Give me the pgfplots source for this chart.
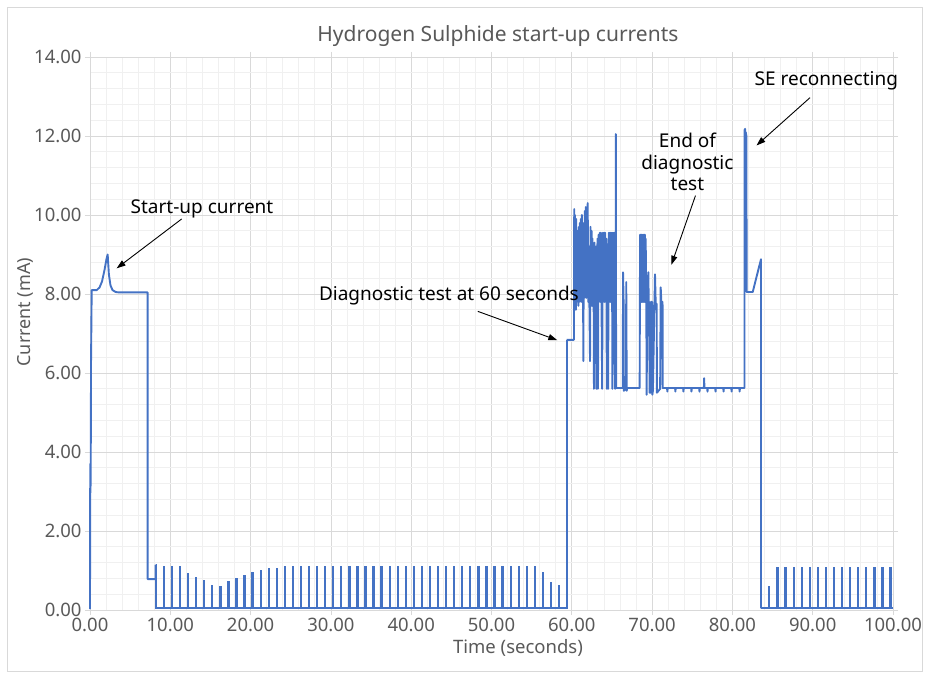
\documentclass[border=0pt]{standalone}
\usepackage{fontspec}
\setmainfont{Noto Sans}
\usepackage{pgfplots}
\pgfplotsset{compat=1.18}
\usetikzlibrary{arrows.meta}

\definecolor{trace}{HTML}{4472C4}
\definecolor{txtgray}{HTML}{595959}
\definecolor{majgrid}{HTML}{D9D9D9}
\definecolor{mingrid}{HTML}{F0F0F0}

\newcommand{\annfont}{\fontsize{19}{21.7}\selectfont}

\begin{document}
\begin{tikzpicture}
% page = 929 x 673 px, axis origin at pixel (90,610)
\path[use as bounding box] (-90pt,-63pt) rectangle (839pt,610pt);
\draw[majgrid, line width=0.8pt] (-83pt,-61pt) rectangle (832pt,603pt);
\begin{axis}[
    at={(0pt,0pt)}, anchor=south west,
    scale only axis, width=803pt, height=553pt,
    xmin=0, xmax=100, ymin=0, ymax=14,
    xtick distance=10, ytick distance=2,
    minor tick num=4,
    grid=both,
    major grid style={majgrid, line width=0.8pt},
    minor grid style={mingrid, line width=0.8pt},
    axis line style={majgrid, line width=0.8pt},
    tick align=outside, major tick length=5pt, minor tick length=0pt,
    tick style={majgrid, line width=0.8pt},
    tick label style={font=\fontsize{18.5}{20}\selectfont, text=txtgray},
    /pgf/number format/.cd, fixed, fixed zerofill, precision=2, assume math mode=true,
    /pgfplots/.cd,
    clip=false,
]

% start-up
\addplot[trace, line width=1.9pt, line join=round] coordinates {
(0.00,0.02) (0.03,3.70) (0.06,2.97) (0.09,3.55) (0.13,6.30) (0.17,7.20) (0.21,8.10)
(0.85,8.10) (1.20,8.17) (1.50,8.32) (1.80,8.60) (2.05,8.88) (2.20,9.00) (2.35,8.50)
(2.55,8.22) (2.80,8.10) (3.20,8.05) (3.60,8.04) (7.18,8.04) (7.18,0.78) (8.18,0.78) (8.18,1.14)
};

% idle pulses
\addplot[trace, line width=1.9pt, const plot mark left] coordinates {
(8.18,1.14) (8.23,0.04) (9.18,1.08) (9.23,0.04) (10.19,1.08) (10.24,0.04) (11.19,1.08) (11.24,0.04)
(12.20,0.91) (12.25,0.04) (13.20,0.81) (13.25,0.04) (14.20,0.74) (14.25,0.04) (15.21,0.61) (15.26,0.04)
(16.21,0.59) (16.26,0.04) (17.22,0.70) (17.27,0.04) (18.22,0.79) (18.27,0.04) (19.22,0.86) (19.27,0.04)
(20.23,0.95) (20.28,0.04) (21.23,1.00) (21.28,0.04) (22.24,1.04) (22.29,0.04) (23.24,1.04) (23.29,0.04)
(24.24,1.08) (24.29,0.04) (25.25,1.08) (25.30,0.04) (26.25,1.08) (26.30,0.04) (27.26,1.08) (27.31,0.04)
(28.26,1.08) (28.31,0.04) (29.26,1.08) (29.31,0.04) (30.27,1.08) (30.32,0.04) (31.27,1.08) (31.32,0.04)
(32.28,1.08) (32.33,0.04) (33.28,1.08) (33.33,0.04) (34.28,1.08) (34.33,0.04) (35.29,1.08) (35.34,0.04)
(36.29,1.08) (36.34,0.04) (37.30,1.08) (37.35,0.04) (38.30,1.08) (38.35,0.04) (39.30,1.08) (39.35,0.04)
(40.31,1.08) (40.36,0.04) (41.31,1.08) (41.36,0.04) (42.32,1.08) (42.37,0.04) (43.32,1.08) (43.37,0.04)
(44.32,1.08) (44.37,0.04) (45.33,1.08) (45.38,0.04) (46.33,1.08) (46.38,0.04) (47.34,1.08) (47.39,0.04)
(48.34,1.08) (48.39,0.04) (49.34,1.08) (49.39,0.04) (50.35,1.08) (50.40,0.04) (51.35,1.08) (51.40,0.04)
(52.36,1.08) (52.41,0.04) (53.36,1.08) (53.41,0.04) (54.36,1.08) (54.41,0.04) (55.37,1.08) (55.42,0.04)
(56.37,0.95) (56.42,0.04) (57.38,0.68) (57.43,0.04) (58.38,0.60) (58.43,0.04) (59.36,6.84)
};

% diagnostic test and reconnect
\addplot[trace, line width=1.9pt, line join=round] coordinates {
(59.36,6.84) (60.27,6.84) (60.30,10.15) (60.36,7.80) (60.40,10.00) (60.45,9.00) (60.50,7.60)
(60.55,9.90) (60.60,7.80) (60.66,9.60) (60.70,8.00) (60.76,9.60) (60.82,7.70) (60.88,9.70)
(60.94,7.80) (61.00,9.80) (61.06,7.90) (61.12,9.90) (61.18,7.80) (61.25,10.00) (61.32,8.20)
(61.38,9.10) (61.44,6.30) (61.50,9.80) (61.56,7.90) (61.62,10.10) (61.68,8.00) (61.74,10.20)
(61.80,7.90) (61.86,9.90) (61.92,8.50) (61.98,10.30) (62.05,7.80) (62.12,9.20) (62.20,7.60)
(62.27,6.30) (62.33,9.70) (62.40,7.80) (62.46,9.60) (62.52,7.70) (62.58,9.40) (62.64,7.80)
(62.70,9.10) (62.76,5.60) (62.82,9.30) (62.90,7.80) (63.00,9.20) (63.05,5.60) (63.12,7.80)
(63.20,9.40) (63.26,5.60) (63.33,9.50) (63.40,7.80) (63.50,9.55) (63.56,7.80) (63.62,9.55)
(63.70,7.80) (63.78,5.60) (63.85,9.55) (63.92,7.80) (64.00,9.55) (64.08,7.80) (64.15,9.55)
(64.22,7.80) (64.30,9.40) (64.36,5.60) (64.45,7.80) (64.52,5.60) (64.60,9.55) (64.66,7.80)
(64.74,9.55) (64.80,7.80) (64.86,9.55) (64.92,7.80) (65.00,9.55) (65.06,5.60) (65.15,9.55)
(65.22,7.80) (65.30,9.55) (65.38,5.60) (65.46,7.80) (65.48,12.05) (65.52,5.62)
(66.35,5.62) (66.38,8.55) (66.45,7.80) (66.48,5.55) (66.75,5.60) (66.78,8.30) (66.84,5.55)
(66.90,5.62) (68.45,5.62) (68.50,9.50) (68.55,7.80) (68.60,9.50) (68.65,7.80) (68.70,9.50)
(68.75,7.80) (68.80,9.50) (68.85,7.80) (68.90,9.50) (68.95,7.80) (69.00,9.50) (69.05,7.80)
(69.10,9.50) (69.15,7.80) (69.20,9.40) (69.28,7.80) (69.32,5.45) (69.40,7.80) (69.53,8.55)
(69.58,7.80) (69.65,7.80) (69.68,5.50) (69.82,5.50) (69.85,7.80) (70.00,7.80) (70.03,5.45)
(70.10,5.55) (70.36,8.50) (70.45,7.75) (70.57,7.75) (70.60,5.50) (71.00,5.60) (71.07,8.17)
(71.15,7.80) (71.30,7.80) (71.32,5.62)
(71.86,5.62) (71.90,5.53) (71.94,5.62) (72.86,5.62) (72.90,5.53) (72.94,5.62)
(73.86,5.62) (73.90,5.53) (73.94,5.62) (74.86,5.62) (74.90,5.53) (74.94,5.62)
(75.86,5.62) (75.90,5.53) (75.94,5.62) (76.45,5.62) (76.48,5.87) (76.52,5.62)
(76.86,5.62) (76.90,5.53) (76.94,5.62) (77.86,5.62) (77.90,5.53) (77.94,5.62)
(78.86,5.62) (78.90,5.53) (78.94,5.62) (79.86,5.62) (79.90,5.53) (79.94,5.62)
(80.86,5.62) (80.90,5.53) (80.94,5.62)
(81.50,5.62) (81.52,12.15) (81.58,12.18) (81.62,9.30) (81.66,12.10) (81.74,12.00) (81.78,8.05)
(82.53,8.05) (83.56,8.88) (83.56,0.04)
};

% idle pulses after reconnect
\addplot[trace, line width=1.9pt, const plot mark left] coordinates {
(83.56,0.04) (84.56,0.59) (84.61,0.04) (85.60,1.07) (85.65,0.04) (86.60,1.07) (86.65,0.04)
(87.61,1.07) (87.66,0.04) (88.61,1.07) (88.66,0.04) (89.62,1.07) (89.67,0.04) (90.62,1.07) (90.67,0.04)
(91.63,1.07) (91.68,0.04) (92.63,1.07) (92.68,0.04) (93.64,1.07) (93.69,0.04) (94.64,1.07) (94.69,0.04)
(95.65,1.07) (95.70,0.04) (96.65,1.07) (96.70,0.04) (97.66,1.07) (97.71,0.04) (98.66,1.07) (98.71,0.04)
(99.67,1.07) (99.72,0.04) (100.00,0.04)
};

% titles
\node[font=\fontsize{21}{24}\selectfont, text=txtgray] at (axis cs:50.8,14.54) {Hydrogen Sulphide start-up currents};
\node[font=\fontsize{18.5}{20}\selectfont, text=txtgray] at (axis cs:53.3,-0.97) {Time (seconds)};
\node[font=\fontsize{18}{20}\selectfont, text=txtgray, rotate=90] at (axis cs:-8.1,7.54) {Current (mA)};

% annotations
\node[font=\annfont] at (axis cs:13.95,10.15) {Start-up current};
\draw[-{Triangle[length=9pt,width=6pt]}, line width=0.9pt] (axis cs:11.42,9.90) -- (axis cs:3.32,8.65);
\node[font=\annfont] at (axis cs:44.7,7.97) {Diagnostic test at 60 seconds};
\draw[-{Triangle[length=9pt,width=6pt]}, line width=0.9pt] (axis cs:48.3,7.56) -- (axis cs:58.2,6.83);
\node[font=\annfont, align=center] at (axis cs:74.4,11.34) {End of\\diagnostic\\test};
\draw[-{Triangle[length=9pt,width=6pt]}, line width=0.9pt] (axis cs:75.4,10.49) -- (axis cs:72.4,8.74);
\node[font=\annfont] at (axis cs:91.7,13.40) {SE reconnecting};
\draw[-{Triangle[length=9pt,width=6pt]}, line width=0.9pt] (axis cs:89.66,12.97) -- (axis cs:83.0,11.76);

\end{axis}
\end{tikzpicture}
\end{document}
